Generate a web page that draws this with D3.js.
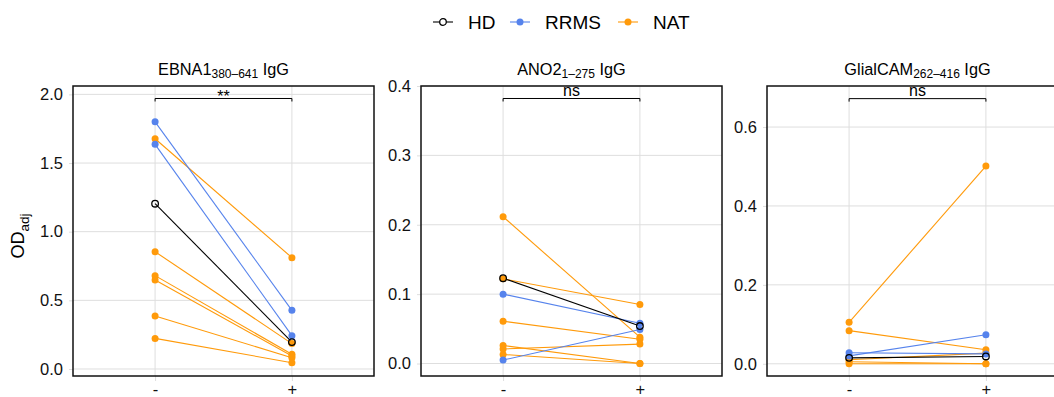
<!DOCTYPE html>
<html>
<head>
<meta charset="utf-8">
<script src="https://cdn.jsdelivr.net/npm/d3@7"></script>
<style>
  body { margin: 0; background: #fff; }
  svg { font-family: "Liberation Sans", Arial, sans-serif; }
</style>
</head>
<body>
<svg id="chart" width="1054" height="397"></svg>
<script>
// groups / values for each panel, pre ("-") and post ("+")
let conditions = ["-", "+"];
let legendGroups = ["HD", "RRMS", "NAT"];

let ebnaGroup = ["NAT", "NAT", "NAT", "NAT", "NAT", "NAT", "RRMS", "RRMS", "HD"];
let ebnaPre   = [1.677, 0.854, 0.680, 0.648, 0.386, 0.223, 1.80, 1.636, 1.204];
let ebnaPost  = [0.811, 0.185, 0.107, 0.095, 0.082, 0.046, 0.427, 0.243, 0.196];

let anoGroup = ["NAT", "NAT", "NAT", "NAT", "NAT", "NAT", "RRMS", "RRMS", "HD"];
let anoPre   = [0.2115, 0.122, 0.061, 0.026, 0.021, 0.013, 0.100, 0.005, 0.123];
let anoPost  = [0.038, 0.085, 0.035, 0.0, 0.028, 0.0, 0.058, 0.049, 0.054];

let glialGroup = ["NAT", "NAT", "NAT", "NAT", "NAT", "RRMS", "RRMS", "HD"];
let glialPre   = [0.105, 0.084, 0.010, 0.0, 0.005, 0.028, 0.020, 0.015];
let glialPost  = [0.501, 0.0355, 0.027, 0.0, 0.0, 0.025, 0.0735, 0.0185];

let titleMain = ["EBNA1", "ANO2", "GlialCAM"];
let titleSub = ["380\u2013641", "1\u2013275", "262\u2013416"];
let yTicks = [[0, 0.5, 1.0, 1.5, 2.0], [0, 0.1, 0.2, 0.3, 0.4], [0, 0.2, 0.4, 0.6]];
let yDomains = [[-0.051, 2.061], [-0.018, 0.4], [-0.031, 0.704]];
let sigLabels = ["**", "ns", "ns"];
let sigY = [1.97, 0.382, 0.672];

let colors = { "HD": "#000000", "RRMS": "#5683ec", "NAT": "#ff9a0a" };

let svg = d3.select("#chart");
let gridColor = "#dedede";

let panelLeft = [73, 421, 767];
let panelWidth = 301;
let plotTop = 86, plotBottom = 376;

let panelData = [
  [ebnaGroup, ebnaPre, ebnaPost],
  [anoGroup, anoPre, anoPost],
  [glialGroup, glialPre, glialPost]
];

panelData.forEach(function(pd, p) {
  let rows = pd[0].map(function(g, i) { return { group: g, pre: pd[1][i], post: pd[2][i] }; });
  // draw NAT first, then RRMS, then HD on top
  rows.sort(function(a, b) { return legendGroups.indexOf(b.group) - legendGroups.indexOf(a.group); });

  let x = d3.scalePoint().domain(conditions)
    .range([panelLeft[p], panelLeft[p] + panelWidth]).padding(0.6);
  let y = d3.scaleLinear().domain(yDomains[p]).range([plotBottom, plotTop]);

  let g = svg.append("g");

  // grid
  g.selectAll(".hgrid").data(yTicks[p]).enter().append("line")
    .attr("x1", panelLeft[p]).attr("x2", panelLeft[p] + panelWidth)
    .attr("y1", d => y(d)).attr("y2", d => y(d))
    .style("stroke", gridColor).style("stroke-width", 1);
  g.selectAll(".vgrid").data(conditions).enter().append("line")
    .attr("x1", d => x(d)).attr("x2", d => x(d))
    .attr("y1", plotTop).attr("y2", plotBottom)
    .style("stroke", gridColor).style("stroke-width", 1);

  // axes
  let yAxis = g.append("g")
    .attr("transform", "translate(" + panelLeft[p] + ",0)")
    .call(d3.axisLeft(y).tickValues(yTicks[p]).tickFormat(d3.format(".1f")).tickSize(4).tickPadding(6));
  let xAxis = g.append("g")
    .attr("transform", "translate(0," + plotBottom + ")")
    .call(d3.axisBottom(x).tickSize(5).tickPadding(3));
  [yAxis, xAxis].forEach(function(a) {
    a.select(".domain").remove();
    a.selectAll(".tick line").style("stroke", gridColor);
    a.selectAll("text").style("font-size", "16.5px").style("fill", "#111")
      .style("font-family", "Liberation Sans, Arial, sans-serif");
  });
  xAxis.selectAll("text").attr("dy", "0.64em");

  // paired lines
  g.selectAll(".pair").data(rows).enter().append("line")
    .attr("x1", x("-")).attr("x2", x("+"))
    .attr("y1", d => y(d.pre)).attr("y2", d => y(d.post))
    .style("stroke", d => colors[d.group])
    .style("stroke-width", 1.1);

  // points
  rows.forEach(function(r) {
    [["-", r.pre], ["+", r.post]].forEach(function(pt) {
      let c = g.append("circle")
        .attr("cx", x(pt[0])).attr("cy", y(pt[1])).attr("r", 3.5);
      if (r.group == "HD") {
        c.style("fill", "none").style("stroke", "#000").style("stroke-width", 1.3).attr("r", 3.3);
      } else {
        c.style("fill", colors[r.group]);
      }
    });
  });

  // panel border
  g.append("rect")
    .attr("x", panelLeft[p]).attr("y", plotTop)
    .attr("width", panelWidth).attr("height", plotBottom - plotTop)
    .style("fill", "none").style("stroke", "#111").style("stroke-width", 1.5);

  // significance bracket
  let by = y(sigY[p]);
  g.append("path")
    .attr("d", "M" + x("-") + "," + (by + 3) + "V" + by + "H" + x("+") + "V" + (by + 3))
    .style("fill", "none").style("stroke", "#000").style("stroke-width", 1);
  g.append("text")
    .attr("x", (x("-") + x("+")) / 2)
    .attr("y", sigLabels[p] == "**" ? by + 3.5 : by - 2.5)
    .text(sigLabels[p])
    .style("text-anchor", "middle")
    .style("font-size", "16px");

  // title
  let t = g.append("text")
    .attr("x", panelLeft[p] + panelWidth / 2)
    .attr("y", 75)
    .style("text-anchor", "middle")
    .style("font-size", "16.3px");
  t.append("tspan").text(titleMain[p]);
  t.append("tspan").text(titleSub[p]).attr("dy", 3).style("font-size", "12px");
  t.append("tspan").text(" IgG").attr("dy", -3);
});

// y-axis title
let yt = svg.append("text")
  .attr("transform", "translate(24,236) rotate(-90)")
  .style("text-anchor", "middle")
  .style("font-size", "18px");
yt.append("tspan").text("OD");
yt.append("tspan").text("adj").attr("dy", 4.5).style("font-size", "13.5px");

// legend
let legendX = [433, 510, 618];
let legend = svg.selectAll(".legend").data(legendGroups).enter().append("g")
  .attr("transform", (d, i) => "translate(" + legendX[i] + ",22)");
legend.append("line")
  .attr("x1", 0).attr("x2", 20)
  .style("stroke", d => colors[d]).style("stroke-width", 1.1);
legend.append("circle")
  .attr("cx", 10).attr("r", d => d == "HD" ? 3.3 : 3.5)
  .style("fill", d => d == "HD" ? "#fff" : colors[d])
  .style("stroke", d => d == "HD" ? "#000" : "none")
  .style("stroke-width", 1.3);
legend.append("text")
  .attr("x", 35).attr("y", 7)
  .text(d => d)
  .style("font-size", "19px");
</script>
</body>
</html>
